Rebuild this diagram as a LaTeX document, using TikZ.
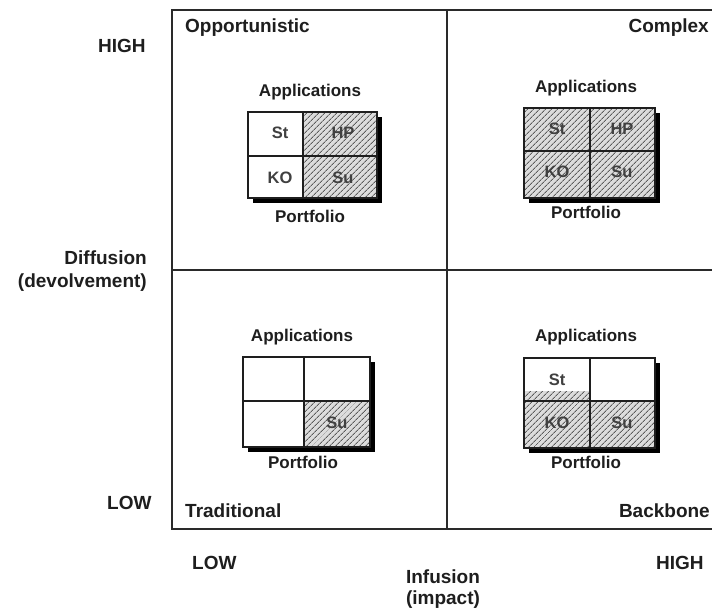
\documentclass[tikz,border=0pt]{standalone}
\usepackage{fontspec}
\setmainfont{Liberation Sans}
\usetikzlibrary{patterns.meta}
\definecolor{ink}{HTML}{1E1E1E}
\definecolor{rule}{HTML}{2A2A2A}
\definecolor{hatchbg}{HTML}{DCDCDC}
\definecolor{hatchfg}{HTML}{5C5C5C}
\begin{document}
\begin{tikzpicture}[x=1pt,y=-1pt,
  lbl/.style={font=\fontsize{19}{22}\selectfont\bfseries, text=ink, inner sep=0pt},
  small/.style={font=\fontsize{17}{20}\selectfont\bfseries, text=ink, inner sep=0pt},
  celltext/.style={font=\fontsize{16.5}{19}\selectfont\bfseries, text=ink!85, inner sep=0pt},
  frame/.style={draw=rule, line width=1.6pt},
  cellline/.style={draw=ink, line width=1.1pt},
  shadow/.style={fill=black},
  hatch/.style={preaction={fill=hatchbg}, pattern={Lines[angle=45,distance=4pt,line width=0.9pt]}, pattern color=hatchfg}]
\useasboundingbox (0,0) rectangle (712,614);
\fill[white] (0,0) rectangle (712,614);

% quadrant frame
\coordinate (tl) at (172,10);
\coordinate (tr) at (713,10);
\coordinate (bl) at (172,529);
\coordinate (br) at (713,529);
\coordinate (mt) at (447,10);
\coordinate (mb) at (447,529);
\coordinate (ml) at (172,270);
\coordinate (mr) at (713,270);
\draw[frame] (tr) -- (tl) -- (bl) -- (br);
\draw[frame] (mt) -- (mb);
\draw[frame] (ml) -- (mr);

% axis labels
\node[lbl, anchor=west] (yhigh) at (98,46) {HIGH};
\node[lbl, anchor=east] (ydiff) at (147,258) {Diffusion};
\node[lbl, anchor=east] (ydevo) at (147,283) {(devolvement)};
\node[lbl, anchor=west] (ylow) at (107,503) {LOW};
\node[lbl, anchor=west] (xlow) at (192,563) {LOW};
\node[lbl, anchor=west] (xhigh) at (656,563) {HIGH};
\node[lbl] (xinf) at (443,577) {Infusion};
\node[lbl] (ximp) at (443,600) {(impact)};

% quadrant names
\node[lbl, anchor=west] (qopp) at (185,28) {Opportunistic};
\node[lbl, anchor=east] (qcom) at (709,28) {Complex};
\node[lbl, anchor=west] (qtra) at (185,511) {Traditional};
\node[lbl, anchor=east] (qbac) at (710,511) {Backbone};

% --- Opportunistic portfolio
\fill[shadow] (253,117) rectangle (382,203);
\fill[white] (248,112) rectangle (377,198);
\fill[hatch] (303,112) rectangle (377,198);
\draw[cellline] (248,112) rectangle (377,198);
\draw[cellline] (303,112) -- (303,198);
\draw[cellline] (248,156) -- (377,156);
\node[small] (oapp) at (310,92) {Applications};
\node[small] (opor) at (310,216) {Portfolio};
\node[celltext] (ost) at (280,133) {St};
\node[celltext] (ohp) at (343,133) {HP};
\node[celltext] (oko) at (280,178) {KO};
\node[celltext] (osu) at (343,178) {Su};

% --- Complex portfolio
\fill[shadow] (529,113) rectangle (660,203);
\fill[hatch] (524,108) rectangle (655,198);
\draw[cellline] (524,108) rectangle (655,198);
\draw[cellline] (590,108) -- (590,198);
\draw[cellline] (524,151) -- (655,151);
\node[small] (capp) at (586,88) {Applications};
\node[small] (cpor) at (586,212) {Portfolio};
\node[celltext] (cst) at (557,129) {St};
\node[celltext] (chp) at (622,129) {HP};
\node[celltext] (cko) at (557,172) {KO};
\node[celltext] (csu) at (622,172) {Su};

% --- Traditional portfolio
\fill[shadow] (248,362) rectangle (375,452);
\fill[white] (243,357) rectangle (370,447);
\fill[hatch] (304,401) rectangle (370,447);
\draw[cellline] (243,357) rectangle (370,447);
\draw[cellline] (304,357) -- (304,447);
\draw[cellline] (243,401) -- (370,401);
\node[small] (tapp) at (302,337) {Applications};
\node[small] (tpor) at (303,462) {Portfolio};
\node[celltext] (tsu) at (337,423) {Su};

% --- Backbone portfolio
\fill[shadow] (529,363) rectangle (660,453);
\fill[white] (524,358) rectangle (655,448);
\fill[hatch] (524,401) rectangle (655,448);
\fill[hatch] (524,391) rectangle (590,401);
\draw[cellline] (524,358) rectangle (655,448);
\draw[cellline] (590,358) -- (590,448);
\draw[cellline] (524,401) -- (655,401);
\node[small] (bapp) at (586,337) {Applications};
\node[small] (bpor) at (586,462) {Portfolio};
\node[celltext] (bst) at (557,380) {St};
\node[celltext] (bko) at (557,423) {KO};
\node[celltext] (bsu) at (622,423) {Su};
\end{tikzpicture}
\end{document}
